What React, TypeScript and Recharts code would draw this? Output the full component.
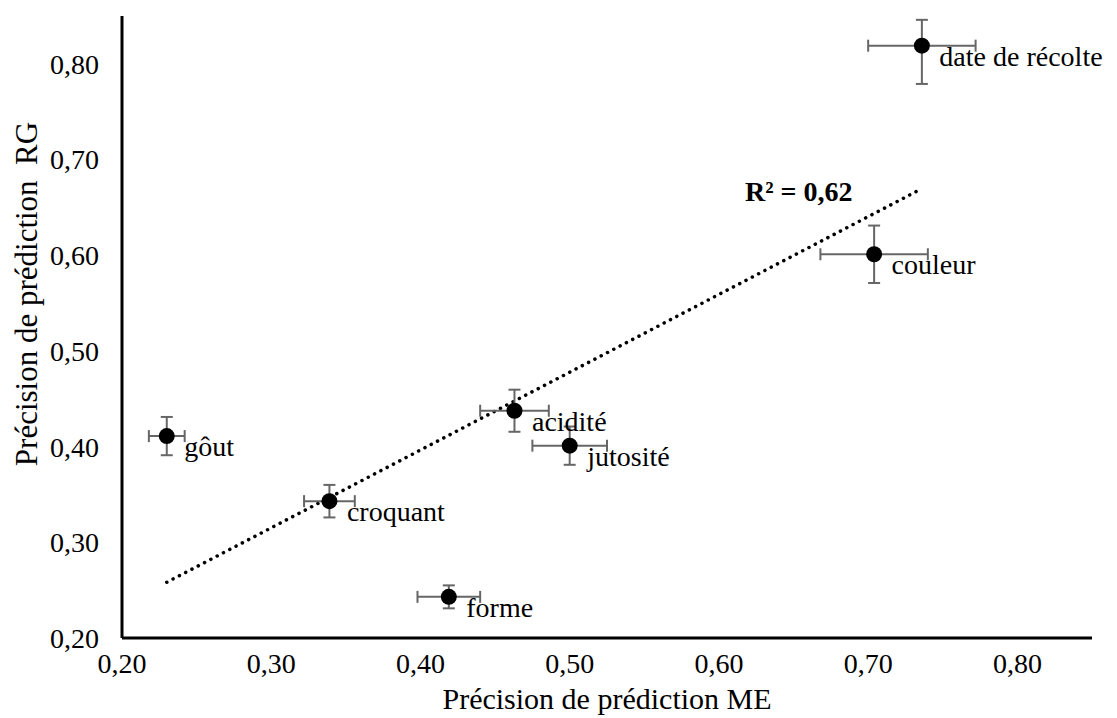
import { ErrorBar, LabelList, ReferenceLine, Scatter, ScatterChart, XAxis, YAxis } from 'recharts';

const names = ['gôut', 'croquant', 'forme', 'acidité', 'jutosité', 'couleur', 'date de récolte'];
const meValues = [0.23, 0.339, 0.419, 0.463, 0.5, 0.704, 0.736];
const rgValues = [0.411, 0.343, 0.243, 0.4375, 0.401, 0.601, 0.819];
const meErrors = [0.012, 0.017, 0.021, 0.023, 0.025, 0.036, 0.036];
const rgErrorsDown = [0.02, 0.017, 0.012, 0.022, 0.02, 0.03, 0.04];
// the top of the last bar is cut by the plot edge
const rgErrorsUp = [0.02, 0.017, 0.012, 0.022, 0.02, 0.03, 0.027];
const xTicks = [0.2, 0.3, 0.4, 0.5, 0.6, 0.7, 0.8];
const yTicks = [0.2, 0.3, 0.4, 0.5, 0.6, 0.7, 0.8];
const r2Label = 'R² = 0,62';

const FONT = '"Liberation Serif", "Times New Roman", serif';

const data = names.map((name, i) => ({
  name,
  me: meValues[i],
  rg: rgValues[i],
  meErr: meErrors[i],
  rgErr: [rgErrorsDown[i], rgErrorsUp[i]],
}));

// least-squares trend line, as the spreadsheet draws it
const n = meValues.length;
const mx = meValues.reduce((a, b) => a + b, 0) / n;
const my = rgValues.reduce((a, b) => a + b, 0) / n;
let sxy = 0;
let sxx = 0;
meValues.forEach((x, i) => {
  sxy += (x - mx) * (rgValues[i] - my);
  sxx += (x - mx) * (x - mx);
});
const slope = sxy / sxx;
const intercept = my - slope * mx;
const xMin = Math.min(...meValues);
const xMax = Math.max(...meValues);

const fmt = (v: number) => v.toFixed(2).replace('.', ',');

// eslint-disable-next-line @typescript-eslint/no-explicit-any
function PointLabel(props: any) {
  const { x, y, value } = props;
  return (
    <text x={x + 22} y={y + 15} fontFamily={FONT} fontSize={28} fill="#000" dominantBaseline="central">
      {value}
    </text>
  );
}

// eslint-disable-next-line @typescript-eslint/no-explicit-any
function Dot(props: any) {
  return <circle cx={props.cx} cy={props.cy} r={8} fill="#000" />;
}

function YTitle() {
  const cy = 294;
  return (
    <text
      x={26}
      y={cy}
      transform={`rotate(-90, 26, ${cy})`}
      textAnchor="middle"
      dominantBaseline="central"
      fontFamily={FONT}
      fontSize={31}
      fill="#000"
    >
      {'Précision de prédiction\u00a0 RG'}
    </text>
  );
}

export default function App() {
  return (
    <div style={{ position: 'absolute', left: 0, top: 0, width: 1117, height: 718, background: '#fff' }}>
      <ScatterChart width={1117} height={718} margin={{ top: 16, right: 25, left: 0, bottom: 0 }}>
        <XAxis
          type="number"
          dataKey="me"
          domain={[0.2, 0.85]}
          ticks={xTicks}
          tickFormatter={fmt}
          allowDataOverflow
          height={80}
          axisLine={{ stroke: '#000', strokeWidth: 3 }}
          tickLine={false}
          tickSize={0}
          tickMargin={15}
          tick={{ fontFamily: FONT, fontSize: 28, fill: '#000' }}
          label={{
            value: 'Précision de prédiction ME',
            position: 'insideBottom',
            offset: 9,
            style: { fontFamily: FONT, fontSize: 30, fill: '#000' },
          }}
        />
        <YAxis
          type="number"
          dataKey="rg"
          domain={[0.2, 0.85]}
          ticks={yTicks}
          tickFormatter={fmt}
          allowDataOverflow
          width={122}
          axisLine={{ stroke: '#000', strokeWidth: 3 }}
          tickLine={false}
          tickSize={0}
          tickMargin={23}
          tick={{ fontFamily: FONT, fontSize: 28, fill: '#000' }}
          label={<YTitle />}
        />
        <ReferenceLine
          segment={[
            { x: xMin, y: slope * xMin + intercept },
            { x: xMax, y: slope * xMax + intercept },
          ]}
          stroke="#000"
          strokeWidth={3.5}
          strokeDasharray="0.1 7"
          strokeLinecap="round"
          ifOverflow="visible"
        />
        <Scatter data={data} fill="#000" shape={<Dot />} isAnimationActive={false}>
          <ErrorBar dataKey="meErr" direction="x" width={6} stroke="#666" strokeWidth={2} />
          <ErrorBar dataKey="rgErr" direction="y" width={6} stroke="#666" strokeWidth={2} />
          <LabelList dataKey="name" content={<PointLabel />} />
        </Scatter>
      </ScatterChart>
      <div
        style={{
          position: 'absolute',
          left: 745,
          top: 175,
          fontFamily: FONT,
          fontSize: 28,
          fontWeight: 'bold',
          lineHeight: '34px',
          whiteSpace: 'nowrap',
        }}
      >
        {r2Label}
      </div>
    </div>
  );
}
